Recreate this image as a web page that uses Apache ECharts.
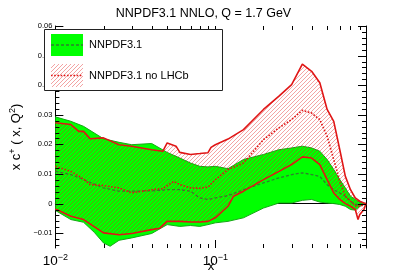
<!DOCTYPE html>
<html><head><meta charset="utf-8">
<script src="https://cdn.jsdelivr.net/npm/echarts@6/dist/echarts.min.js"></script>
<style>html,body{margin:0;padding:0;background:#fff}#c{width:407px;height:276px}</style>
</head><body><div id="c"></div>
<script>
const titleText = 'NNPDF3.1 NNLO, Q = 1.7 GeV';
const legendLabels = ['NNPDF3.1', 'NNPDF3.1 no LHCb'];
const xMin = 0.01, xMax = 0.875, yMin = -0.015, yMax = 0.06;
const xMinorTicks = [0.02,0.03,0.04,0.05,0.06,0.07,0.08,0.09,0.2,0.3,0.4,0.5,0.6,0.7,0.8];
const xMajorTicks = [0.1];

// NNPDF3.1 (green band)
const gUx = [0.01,0.0125,0.015,0.02,0.025,0.03,0.04,0.05,0.06,0.07,0.08,0.09,0.1,0.12,0.15,0.2,0.25,0.3,0.35,0.4,0.45,0.5,0.55,0.6,0.65,0.7,0.75,0.8,0.85,0.875];
const gUy = [0.0293,0.0278,0.0261,0.0219,0.0207,0.0199,0.0203,0.0173,0.0154,0.0137,0.0126,0.0124,0.0126,0.0118,0.0149,0.0166,0.0182,0.0188,0.0194,0.0188,0.0177,0.0149,0.0115,0.0081,0.0053,0.0025,0.0014,0.0005,0.0002,0.0];
const gLx = [0.01,0.0125,0.015,0.0175,0.02,0.022,0.025,0.03,0.04,0.05,0.06,0.07,0.08,0.09,0.1,0.12,0.15,0.2,0.25,0.3,0.35,0.4,0.45,0.5,0.55,0.6,0.65,0.7,0.75,0.8,0.85,0.875];
const gLy = [-0.0023,-0.0054,-0.0063,-0.0097,-0.0133,-0.0144,-0.0124,-0.0116,-0.0101,-0.0071,-0.0077,-0.0074,-0.0077,-0.0071,-0.0065,-0.006,-0.0048,-0.0015,0.0002,0.0002,0.0011,0.0014,0.0005,0.0002,0.0,-0.0003,-0.0009,-0.002,-0.0022,-0.0009,-0.0003,0.0];
const gCx = [0.01,0.0125,0.015,0.02,0.025,0.03,0.04,0.05,0.06,0.07,0.08,0.09,0.1,0.12,0.15,0.2,0.25,0.3,0.35,0.4,0.45,0.5,0.55,0.6,0.65,0.7,0.75,0.8,0.85,0.875];
const gCy = [0.0109,0.0098,0.0081,0.0053,0.0042,0.0042,0.0043,0.0047,0.0047,0.0042,0.0019,0.0014,0.0019,0.0027,0.0047,0.007,0.0087,0.0098,0.0104,0.0098,0.0092,0.0064,0.0047,0.0036,0.0025,0.0008,-0.0003,-0.0003,0.0,0.0];

// NNPDF3.1 no LHCb (red hatched band)
const rUx = [0.01,0.0125,0.014,0.015,0.0165,0.02,0.025,0.03,0.04,0.047,0.05,0.0568,0.06,0.07,0.08,0.09,0.094,0.1,0.12,0.15,0.2,0.25,0.3,0.35,0.4,0.45,0.5,0.55,0.6,0.65,0.7,0.75,0.8,0.85,0.875];
const rUy = [0.0273,0.0267,0.0244,0.0244,0.0219,0.0222,0.0199,0.0194,0.0182,0.0177,0.0205,0.0194,0.0173,0.0166,0.0169,0.0172,0.019,0.0199,0.0218,0.025,0.0318,0.0363,0.0402,0.0471,0.0447,0.0408,0.0318,0.0278,0.0182,0.0092,0.0047,0.0019,0.0008,0.0002,0.0];
const rLx = [0.01,0.0125,0.015,0.02,0.025,0.03,0.04,0.045,0.05,0.06,0.07,0.08,0.09,0.1,0.12,0.13,0.15,0.2,0.25,0.3,0.35,0.4,0.45,0.5,0.55,0.6,0.65,0.7,0.75,0.78,0.8,0.85,0.875];
const rLy = [-0.0018,-0.0043,-0.0054,-0.0099,-0.0105,-0.0101,-0.0088,-0.0083,-0.006,-0.006,-0.0062,-0.0062,-0.006,-0.0048,-0.0009,0.0025,0.0042,0.0081,0.0109,0.0132,0.0158,0.0154,0.0132,0.0081,0.0036,0.0014,0.0,-0.0009,-0.002,-0.0054,-0.0037,-0.002,0.0];
const rCx = [0.01,0.0125,0.015,0.0165,0.02,0.025,0.03,0.04,0.047,0.055,0.06,0.07,0.08,0.09,0.1,0.12,0.15,0.2,0.25,0.3,0.35,0.4,0.45,0.5,0.55,0.6,0.65,0.7,0.75,0.8,0.85,0.875];
const rCy = [0.0126,0.0109,0.0083,0.0064,0.0061,0.0053,0.0036,0.0047,0.0051,0.0075,0.0064,0.0053,0.0052,0.0056,0.0081,0.0115,0.0137,0.0216,0.0256,0.0284,0.0315,0.0306,0.0284,0.0227,0.0149,0.0075,0.0025,0.0008,-0.0007,-0.0009,-0.0004,0.0];

const FONT = "'Liberation Sans', Arial, Helvetica, sans-serif";
const GREEN = '#00ff00', GREEN_LINE = '#15a815', GREEN_DASH = '#2f7f2f', RED = '#e01515';
const HATCH = 'rgba(225,25,25,0.5)', HATCH_W = 0.8, HATCH_STEP = 4;

function zip(xs, ys){ return xs.map((x,i)=>[x, ys[i]]); }

function bandPoints(api, ux, uy, lx, ly){
  const pts = [];
  for (let i=0;i<ux.length;i++) pts.push(api.coord([ux[i], uy[i]]));
  for (let i=lx.length-1;i>=0;i--) pts.push(api.coord([lx[i], ly[i]]));
  return pts;
}
function greenRenderer(params, api){
  return {type:'polygon', shape:{points:bandPoints(api,gUx,gUy,gLx,gLy)}, style:{fill:GREEN}};
}
// diagonal "/" hatch lines clipped to the band polygon
function hatchRenderer(params, api){
  const pts = bandPoints(api, rUx, rUy, rLx, rLy);
  let x0=Infinity,x1=-Infinity,y0=Infinity,y1=-Infinity;
  pts.forEach(p=>{x0=Math.min(x0,p[0]);x1=Math.max(x1,p[0]);y0=Math.min(y0,p[1]);y1=Math.max(y1,p[1]);});
  const children = [];
  for (let c = Math.floor(x0+y0); c <= x1+y1; c += HATCH_STEP){
    children.push({type:'line', shape:{x1:c-y1, y1:y1, x2:c-y0, y2:y0}, style:{stroke:HATCH, lineWidth:HATCH_W}});
  }
  return {type:'group', children:children, clipPath:{type:'polygon', shape:{points:pts}}};
}
function lineSeries(xs, ys, color, width, type, z){
  return {type:'line', data: zip(xs, ys), showSymbol:false, symbol:'none', silent:true, z:z,
    lineStyle:{color:color, width:width, type:type}, clip:true, animation:false};
}

function yLabel(v){
  const r = Math.round(v*1000);
  if (r % 10 !== 0) return '';
  if (r === 0) return '0';
  return (r < 0 ? '\u2212' : '') + (Math.abs(r)/1000).toFixed(2);
}
function xLabel(v){
  const e = Math.round(Math.log10(v));
  if (Math.abs(Math.log10(v) - e) > 1e-6) return '';
  return '{b|10}{s|' + (e < 0 ? '\u2212' : '') + Math.abs(e) + '}';
}

const chart = echarts.init(document.getElementById('c'), null, {renderer:'canvas'});
const axisLineStyle = {show:true, lineStyle:{color:'#000', width:1}};
chart.setOption({
  animation:false,
  backgroundColor:'#fff',
  title:{text:titleText, left:'center', top:2, textStyle:{fontFamily:FONT, fontSize:12.5, fontWeight:'normal', color:'#000'}},
  grid:{left:40, right:41, top:26, bottom:28, containLabel:false},
  xAxis:[
    {type:'log', logBase:10, min:xMin, max:xMax, position:'bottom', axisLine:axisLineStyle, axisTick:{show:false}, splitLine:{show:false},
     axisLabel:{formatter:xLabel, margin:5, showMaxLabel:false, color:'#000',
       rich:{b:{fontFamily:FONT, fontSize:13.5, color:'#000', lineHeight:16}, s:{fontFamily:FONT, fontSize:9, color:'#000', verticalAlign:'top', lineHeight:9}}}},
    {type:'log', logBase:10, min:xMin, max:xMax, position:'top', axisLine:axisLineStyle, axisTick:{show:false}, splitLine:{show:false}, axisLabel:{show:false}}
  ],
  yAxis:[
    {type:'value', min:yMin, max:yMax, interval:0.005, position:'left', axisLine:axisLineStyle, axisTick:{show:false}, splitLine:{show:false},
     axisLabel:{formatter:yLabel, margin:3, color:'#000', fontFamily:FONT, fontSize:7.5},
     name:'{a|x c}{s|+}{a| ( x, Q}{s|2}{a|)}', nameLocation:'middle', nameGap:21,
     nameTextStyle:{rich:{a:{fontFamily:FONT, fontSize:13, color:'#000', lineHeight:16}, s:{fontFamily:FONT, fontSize:9, color:'#000', verticalAlign:'top', lineHeight:9}}}},
    {type:'value', min:yMin, max:yMax, interval:0.005, position:'right', axisLine:axisLineStyle, axisTick:{show:false}, splitLine:{show:false}, axisLabel:{show:false}}
  ],
  series:[
    {type:'custom', name:legendLabels[0], coordinateSystem:'cartesian2d', data:[[0.1,0]], renderItem:greenRenderer, clip:true, silent:true, z:1},
    lineSeries(gUx, gUy, GREEN_LINE, 1, 'solid', 2),
    lineSeries(gLx, gLy, GREEN_LINE, 1, 'solid', 2),
    lineSeries(gCx, gCy, GREEN_DASH, 1.3, [3,2], 3),
    {type:'custom', name:legendLabels[1], coordinateSystem:'cartesian2d', data:[[0.1,0]], renderItem:hatchRenderer, clip:true, silent:true, z:4},
    lineSeries(rUx, rUy, RED, 1.6, 'solid', 5),
    lineSeries(rLx, rLy, RED, 1.6, 'solid', 5),
    lineSeries(rCx, rCy, RED, 1.6, [1.6,1.6], 5)
  ]
});

// ticks and legend drawn after layout using the axes' own scales
const px = v => chart.convertToPixel({xAxisIndex:0}, v);
const py = v => chart.convertToPixel({yAxisIndex:0}, v);
const L = px(xMin), R = px(xMax), T = py(yMax), B = py(yMin);
const g = [];
function tick(x1,y1,x2,y2){ g.push({type:'line', shape:{x1,y1,x2,y2}, style:{stroke:'#000', lineWidth:1}, z:100, silent:true}); }
for (let k=-7; k<=30; k++){
  const v = k*0.002; const y = Math.round(py(v)) + 0.5;
  const len = (k % 5 === 0) ? 8 : 4;
  tick(L, y, L+len, y); tick(R, y, R-len, y);
}
xMinorTicks.forEach(v=>{ const x = Math.round(px(v))+0.5; tick(x,B,x,B-4); tick(x,T,x,T+4); });
xMajorTicks.forEach(v=>{ const x = Math.round(px(v))+0.5; tick(x,B,x,B-8); tick(x,T,x,T+8); });
// legend box
g.push({type:'rect', shape:{x:44.5, y:29.5, width:178, height:61}, style:{fill:'#fff', stroke:'#222', lineWidth:1}, z:110});
g.push({type:'rect', shape:{x:51, y:34, width:32, height:22}, style:{fill:GREEN}, z:111});
g.push({type:'line', shape:{x1:51, y1:45, x2:83, y2:45}, style:{stroke:GREEN_DASH, lineWidth:1.3, lineDash:[3,2]}, z:112});
(function(){
  const sx0=51, sx1=83, sy0=64, sy1=87;
  for (let c = sx0+sy0; c <= sx1+sy1; c += HATCH_STEP){
    let xa = Math.max(sx0, c - sy1), xb = Math.min(sx1, c - sy0);
    if (xb <= xa) continue;
    g.push({type:'line', shape:{x1:xa, y1:c-xa, x2:xb, y2:c-xb}, style:{stroke:HATCH, lineWidth:HATCH_W}, z:111});
  }
})();
g.push({type:'line', shape:{x1:51, y1:75.5, x2:83, y2:75.5}, style:{stroke:RED, lineWidth:1.6, lineDash:[1.6,1.6]}, z:112});
g.push({type:'text', x:89, y:45, style:{text:legendLabels[0], fontFamily:FONT, fontSize:11, fill:'#000', verticalAlign:'middle'}, z:112});
g.push({type:'text', x:89, y:75.5, style:{text:legendLabels[1], fontFamily:FONT, fontSize:11, fill:'#000', verticalAlign:'middle'}, z:112});
g.push({type:'text', x:211, y:266, style:{text:'x', fontFamily:FONT, fontSize:13, fill:'#000', align:'center', verticalAlign:'middle'}, z:112});
chart.setOption({graphic:g});
</script></body></html>
